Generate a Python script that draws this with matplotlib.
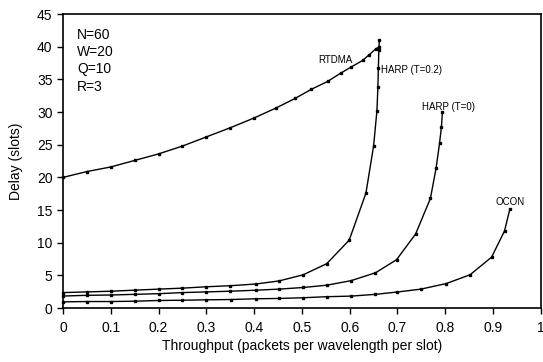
import matplotlib
matplotlib.use("Agg")
import matplotlib.pyplot as plt

plt.rcParams['font.family'] = ['Liberation Sans', 'DejaVu Sans']

# values
rtdma_x = [0, 0.05, 0.1, 0.15, 0.2, 0.25, 0.3, 0.35, 0.4, 0.445, 0.486, 0.52, 0.554, 0.582, 0.603, 0.627, 0.641, 0.655, 0.662]
rtdma_y = [20.0, 20.9, 21.6, 22.6, 23.6, 24.8, 26.2, 27.6, 29.1, 30.6, 32.1, 33.5, 34.7, 36.0, 36.9, 37.9, 38.8, 39.7, 40.0]

harp02_x = [0, 0.05, 0.1, 0.15, 0.2, 0.25, 0.3, 0.35, 0.403, 0.452, 0.503, 0.552, 0.599, 0.634, 0.65, 0.657, 0.659, 0.66, 0.661, 0.662]
harp02_y = [2.37, 2.47, 2.58, 2.74, 2.9, 3.05, 3.26, 3.42, 3.68, 4.15, 5.1, 6.8, 10.4, 17.6, 24.8, 30.2, 33.8, 36.7, 39.5, 41.0]

harp0_x = [0, 0.05, 0.1, 0.15, 0.2, 0.25, 0.3, 0.35, 0.403, 0.452, 0.503, 0.552, 0.603, 0.654, 0.698, 0.738, 0.769, 0.781, 0.788, 0.792, 0.794]
harp0_y = [1.84, 1.95, 2.0, 2.1, 2.2, 2.37, 2.47, 2.58, 2.73, 2.9, 3.15, 3.5, 4.2, 5.4, 7.4, 11.35, 16.8, 21.5, 25.2, 27.75, 30.0]

ocon_x = [0, 0.05, 0.1, 0.15, 0.2, 0.25, 0.3, 0.352, 0.403, 0.452, 0.503, 0.552, 0.603, 0.654, 0.70, 0.749, 0.802, 0.852, 0.897, 0.924, 0.935]
ocon_y = [0.95, 1.0, 1.0, 1.05, 1.16, 1.2, 1.26, 1.31, 1.42, 1.47, 1.58, 1.74, 1.83, 2.1, 2.46, 2.9, 3.75, 5.1, 7.8, 11.8, 15.1]

x_ticks = [0, 0.1, 0.2, 0.3, 0.4, 0.5, 0.6, 0.7, 0.8, 0.9, 1]
x_tick_labels = ['0', '0.1', '0.2', '0.3', '0.4', '0.5', '0.6', '0.7', '0.8', '0.9', '1']
y_ticks = list(range(0, 50, 5))

fig = plt.figure(figsize=(5.43, 3.62), dpi=100)
ax = fig.add_axes([0.116, 0.149, 0.880, 0.812])

for xs, ys in [(rtdma_x, rtdma_y), (harp02_x, harp02_y), (harp0_x, harp0_y), (ocon_x, ocon_y)]:
    ax.plot(xs, ys, color='black', lw=1.0, marker='s', markersize=1.7, clip_on=False)

# curve labels
ax.text(0.605, 37.9, 'RTDMA', fontsize=7, ha='right', va='center')
ax.text(0.665, 36.5, 'HARP (T=0.2)', fontsize=7, ha='left', va='center')
ax.text(0.752, 30.8, 'HARP (T=0)', fontsize=7, ha='left', va='center')
ax.text(0.905, 16.3, 'OCON', fontsize=7, ha='left', va='center')

ax.text(0.03, 42.9, 'N=60\nW=20\nQ=10\nR=3', fontsize=10, ha='left', va='top', linespacing=1.3)

ax.set_xlim(0, 1)
ax.set_ylim(0, 45)
ax.set_xticks(x_ticks)
ax.set_xticklabels(x_tick_labels)
ax.set_yticks(y_ticks)
ax.tick_params(direction='out', length=4, width=1.0, labelsize=10, colors='black')
ax.tick_params(axis='x', pad=5)
for s in ax.spines.values():
    s.set_linewidth(1.2)

ax.set_xlabel('Throughput (packets per wavelength per slot)', fontsize=10, labelpad=3)
ax.set_ylabel('Delay (slots)', fontsize=10, labelpad=10)

fig.savefig('out.png', dpi=100)
